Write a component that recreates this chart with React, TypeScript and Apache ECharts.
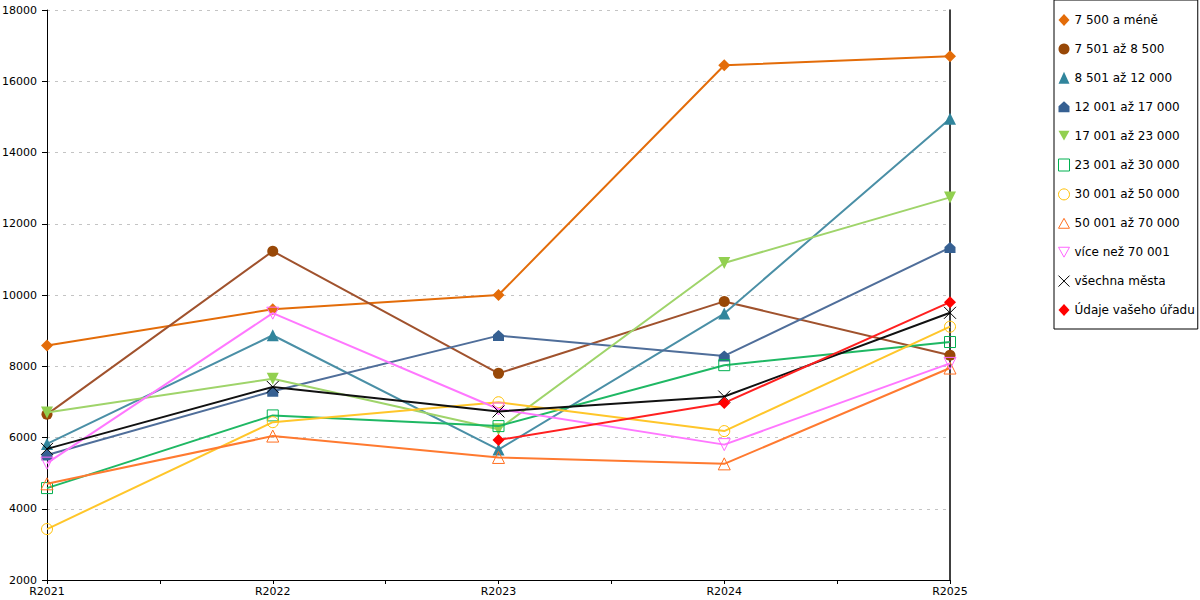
import { useEffect, useRef } from 'react';
import * as echarts from 'echarts';

const years = ['R2021', 'R2022', 'R2023', 'R2024', 'R2025'];

const groupNames = [
  '7 500 a méně',
  '7 501 až 8 500',
  '8 501 až 12 000',
  '12 001 až 17 000',
  '17 001 až 23 000',
  '23 001 až 30 000',
  '30 001 až 50 000',
  '50 001 až 70 000',
  'více než 70 001',
  'všechna města',
  'Údaje vašeho úřadu',
];

const s7500 = [8580, 9600, 10000, 16450, 16700];
const s8500 = [6650, 11230, 7800, 9820, 8310];
const s12000 = [5820, 8870, 5660, 9480, 14950];
const s17000 = [5510, 7300, 8860, 8290, 11330];
const s23000 = [6700, 7650, 6230, 10900, 12740];
const s30000 = [4580, 6620, 6320, 8030, 8680];
const s50000 = [3430, 6430, 6990, 6180, 9110];
const s70000 = [4700, 6040, 5440, 5260, 7950];
const sOver70000 = [5280, 9490, 6800, 5800, 8080];
const sAllCities = [5680, 7420, 6730, 7150, 9500];
const sYourOffice = [null, null, 5930, 6970, 9800];

const yTicks = { min: 2000, max: 18000, interval: 2000 };

const HOUSE = 'path://M5,0 L10,4.5 L10,10 L0,10 L0,4.5 Z';
const CROSS = 'path://M0,0 L10,10 M10,0 L0,10';
const DOWN = 'path://M0,0 L10,0 L5,9 Z';
const UP = 'path://M5,0 L10,9 L0,9 Z';

type Style = { color: string; line: string; symbol: string; hollow?: boolean; size: number; stroke?: boolean };

const styles: Style[] = [
  { color: '#e36c09', line: '#e36c09', symbol: 'diamond', size: 12 },
  { color: '#984807', line: '#a0522d', symbol: 'circle', size: 11 },
  { color: '#31859c', line: '#4a8fa6', symbol: 'triangle', size: 12 },
  { color: '#366092', line: '#4f6e9a', symbol: HOUSE, size: 11 },
  { color: '#92d050', line: '#9fd46a', symbol: DOWN, size: 12 },
  { color: '#00b050', line: '#1fb864', symbol: 'rect', hollow: true, size: 11 },
  { color: '#ffc000', line: '#ffc62a', symbol: 'circle', hollow: true, size: 11 },
  { color: '#ff6f20', line: '#ff7a30', symbol: UP, hollow: true, size: 12 },
  { color: '#ff66ff', line: '#ff77ff', symbol: DOWN, hollow: true, size: 12 },
  { color: '#000000', line: '#111111', symbol: CROSS, size: 12, stroke: true },
  { color: '#ff0000', line: '#ff2020', symbol: 'diamond', size: 12 },
];

const seriesValues = [s7500, s8500, s12000, s17000, s23000, s30000, s50000, s70000, sOver70000, sAllCities, sYourOffice];

const FONT = 'DejaVu Sans';

function markerStyle(st: Style) {
  return st.hollow || st.stroke
    ? { color: 'rgba(255,255,255,0)', borderColor: st.color, borderWidth: 1 }
    : { color: st.color, borderWidth: 0 };
}

export default function App() {
  const chartRef = useRef<HTMLDivElement>(null);

  useEffect(() => {
    document.body.style.margin = '0';
    if (!chartRef.current) return;
    const chart = echarts.init(chartRef.current, null, { renderer: 'svg' });

    const series = seriesValues.map((vals, i) => {
      const st = styles[i];
      return {
        name: groupNames[i],
        type: 'line',
        data: vals.map((v, x) => (v == null ? null : [x, v])).filter((d) => d !== null),
        symbol: st.symbol,
        symbolSize: st.size,
        showAllSymbol: true,
        lineStyle: { color: st.line, width: 2 },
        itemStyle: markerStyle(st),
        emphasis: { disabled: true },
        z: 2 + i,
      };
    });

    const option = {
      animation: false,
      textStyle: { fontFamily: FONT },
      grid: { left: 47, right: 250, top: 10, bottom: 20, containLabel: false, outerBoundsMode: 'none' },
      legend: {
        orient: 'vertical',
        left: 1054,
        top: 0,
        padding: [14, 3, 13, 4],
        itemGap: 16.9,
        itemWidth: 11,
        itemHeight: 12,
        borderColor: '#000',
        borderWidth: 1,
        selectedMode: false,
        textStyle: { fontFamily: FONT, fontSize: 12, color: '#000' },
        data: groupNames.map((n, i) => ({
          name: n,
          icon: styles[i].symbol,
          itemStyle: markerStyle(styles[i]),
        })),
      },
      xAxis: {
        type: 'value',
        min: 0,
        max: years.length - 1,
        interval: 0.5,
        axisLine: { show: true, lineStyle: { color: '#000', width: 1 } },
        axisTick: { show: true, length: 4, lineStyle: { color: '#000' } },
        splitLine: { show: false },
        axisLabel: {
          color: '#000',
          fontSize: 11,
          fontFamily: FONT,
          margin: 6,
          showMinLabel: true,
          showMaxLabel: true,
          formatter: (v: number) => (Number.isInteger(v) ? years[v] : ''),
        },
      },
      yAxis: [
        {
          type: 'value',
          min: yTicks.min,
          max: yTicks.max,
          interval: yTicks.interval,
          axisLine: { show: true, lineStyle: { color: '#000', width: 1 } },
          axisTick: { show: true, length: 5, lineStyle: { color: '#000' } },
          axisLabel: { color: '#000', fontSize: 11, fontFamily: FONT, margin: 10, formatter: (v: number) => String(v) },
          splitLine: { show: true, lineStyle: { color: '#c4c4c4', type: [3, 5], width: 1 } },
        },
        {
          type: 'value',
          position: 'right',
          min: yTicks.min,
          max: yTicks.max,
          interval: yTicks.interval,
          axisLine: { show: true, lineStyle: { color: '#000', width: 1.5 } },
          axisTick: { show: false },
          axisLabel: { show: false },
          splitLine: { show: false },
        },
      ],
      series,
    };

    chart.setOption(option);

    return () => {
      chart.dispose();
    };
  }, []);

  return <div ref={chartRef} style={{ width: 1200, height: 600 }} />;
}
